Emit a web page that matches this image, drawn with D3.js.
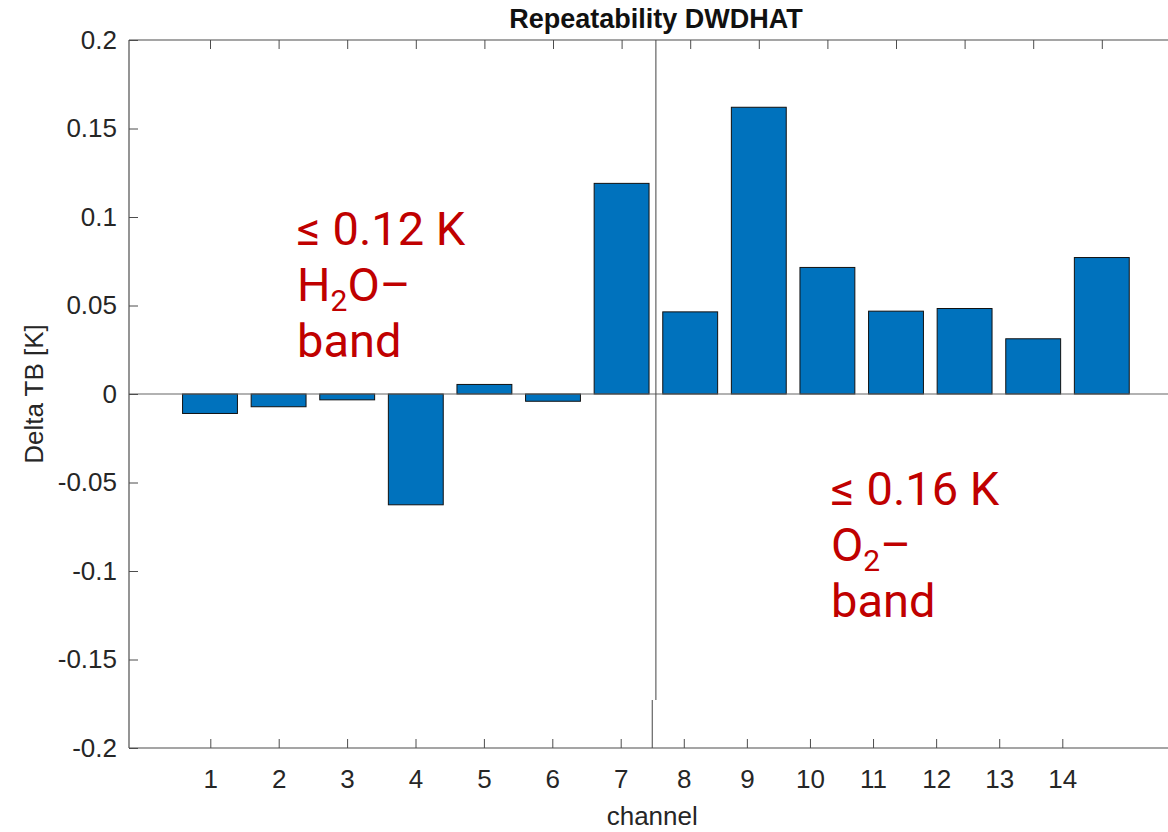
<!DOCTYPE html>
<html>
<head>
<meta charset="utf-8">
<script src="https://cdn.jsdelivr.net/npm/d3@7"></script>
<style>
  html, body { margin: 0; padding: 0; background: #fff; }
  svg { display: block; }
</style>
</head>
<body>
<svg id="chart" width="1168" height="832"></svg>
<script>
// ---- data ----
const channels = [1, 2, 3, 4, 5, 6, 7, 8, 9, 10, 11, 12, 13, 14];
const deltaTB = [-0.011, -0.0072, -0.0033, -0.0626, 0.0054, -0.0041, 0.119,
                 0.0464, 0.162, 0.0715, 0.0468, 0.0483, 0.0312, 0.0771];
const yTicks = [0.2, 0.15, 0.1, 0.05, 0, -0.05, -0.1, -0.15, -0.2];
const yTickLabels = ["0.2", "0.15", "0.1", "0.05", "0", "-0.05", "-0.1", "-0.15", "-0.2"];
const titleText = "Repeatability DWDHAT";
const xLabel = "channel";
const yLabel = "Delta TB [K]";
const bandSplit = 7.5;
const noteH2O = ["≤ 0.12 K", "H", "2", "O–", "band"];
const noteO2 = ["≤ 0.16 K", "O", "2", "–", "band"];

// ---- layout ----
const svg = d3.select("#chart");
const W = 1168, H = 832;
const frameLeft = 129, frameTop = 40, frameBottom = 748;

const x = d3.scaleLinear().domain([0, 15]).range([141.4, 1170.4]);
// bottom tick labels as drawn in the reference (compressed on the right part)
const xb = d3.scaleLinear().domain([1, 7, 14]).range([210.3, 620.7, 1062.3]);
const y = d3.scaleLinear().domain([-0.2, 0.2]).range([frameBottom, frameTop]);

const axisColor = "#4d4d4d";
const textColor = "#262626";
const fontFam = "'Liberation Sans', Arial, Helvetica, sans-serif";

const g = svg.append("g");

// bars
const bw = (x(1) - x(0)) * 0.8;
g.selectAll("rect.bar").data(channels).enter().append("rect")
  .attr("class", "bar")
  .attr("x", d => x(d) - bw / 2)
  .attr("width", bw)
  .attr("y", (d, i) => y(Math.max(0, deltaTB[i])))
  .attr("height", (d, i) => Math.abs(y(deltaTB[i]) - y(0)))
  .attr("fill", "#0072BD")
  .attr("stroke", "#111")
  .attr("stroke-width", 1);

// baseline
g.append("line")
  .attr("x1", frameLeft).attr("x2", W)
  .attr("y1", y(0)).attr("y2", y(0))
  .attr("stroke", "#666").attr("stroke-width", 1.2);

// vertical separator
const splitJoin = 700;
g.append("line")
  .attr("x1", x(bandSplit)).attr("x2", x(bandSplit))
  .attr("y1", frameTop).attr("y2", splitJoin)
  .attr("stroke", "#444").attr("stroke-width", 1);
g.append("line")
  .attr("x1", xb(bandSplit)).attr("x2", xb(bandSplit))
  .attr("y1", splitJoin).attr("y2", frameBottom)
  .attr("stroke", "#444").attr("stroke-width", 1);

// left axis
const yAxis = d3.axisLeft(y).tickValues(yTicks)
  .tickFormat((d, i) => yTickLabels[i]).tickSize(-9).tickPadding(12);
const ya = svg.append("g").attr("transform", `translate(${frameLeft},0)`).call(yAxis);

// top axis (ticks only)
const topAxis = d3.axisTop(x).tickValues(channels).tickFormat("").tickSize(-9);
const ta = svg.append("g").attr("transform", `translate(0,${frameTop})`).call(topAxis);

// bottom axis
const botAxis = d3.axisBottom(xb).tickValues(channels).tickSize(-9).tickPadding(22);
const ba = svg.append("g").attr("transform", `translate(0,${frameBottom})`).call(botAxis);

[ya, ta, ba].forEach(a => {
  a.select(".domain").remove();
  a.selectAll(".tick line").attr("stroke", axisColor).attr("stroke-width", 1);
  a.selectAll(".tick text").attr("fill", textColor)
    .style("font-family", fontFam).style("font-size", "26px");
});

// frame lines
svg.append("line").attr("x1", frameLeft).attr("x2", frameLeft)
  .attr("y1", frameTop).attr("y2", frameBottom).attr("stroke", axisColor).attr("stroke-width", 1.2);
svg.append("line").attr("x1", frameLeft).attr("x2", W)
  .attr("y1", frameTop).attr("y2", frameTop).attr("stroke", axisColor).attr("stroke-width", 1.2);
svg.append("line").attr("x1", frameLeft).attr("x2", W)
  .attr("y1", frameBottom).attr("y2", frameBottom).attr("stroke", axisColor).attr("stroke-width", 1.2);

// title
svg.append("text").attr("x", 656).attr("y", 28)
  .attr("text-anchor", "middle")
  .style("font-family", fontFam).style("font-weight", "bold").style("font-size", "27px")
  .attr("fill", "#111").text(titleText);

// axis labels
svg.append("text").attr("x", xb(bandSplit)).attr("y", 825)
  .attr("text-anchor", "middle")
  .style("font-family", fontFam).style("font-size", "26px")
  .attr("fill", textColor).text(xLabel);

svg.append("text")
  .attr("transform", `translate(43,${y(0)}) rotate(-90)`)
  .attr("text-anchor", "middle")
  .style("font-family", fontFam).style("font-size", "26px")
  .attr("fill", textColor).text(yLabel);

// annotations
const red = "#C00000";
const noteFont = "Roboto, 'Noto Sans', sans-serif";
function note(xp, yp, parts) {
  const t = svg.append("text").attr("x", xp).attr("y", yp)
    .style("font-family", noteFont).style("font-size", "47px").attr("fill", red);
  t.append("tspan").attr("x", xp).attr("y", yp).text(parts[0]);
  t.append("tspan").attr("x", xp).attr("y", yp + 56).text(parts[1]);
  t.append("tspan").attr("dy", 10).style("font-size", "30px").text(parts[2]);
  t.append("tspan").attr("dy", -10).text(parts[3]);
  t.append("tspan").attr("x", xp).attr("y", yp + 112).text(parts[4]);
}
note(297, 245, noteH2O);
note(831, 505, noteO2);
</script>
</body>
</html>
